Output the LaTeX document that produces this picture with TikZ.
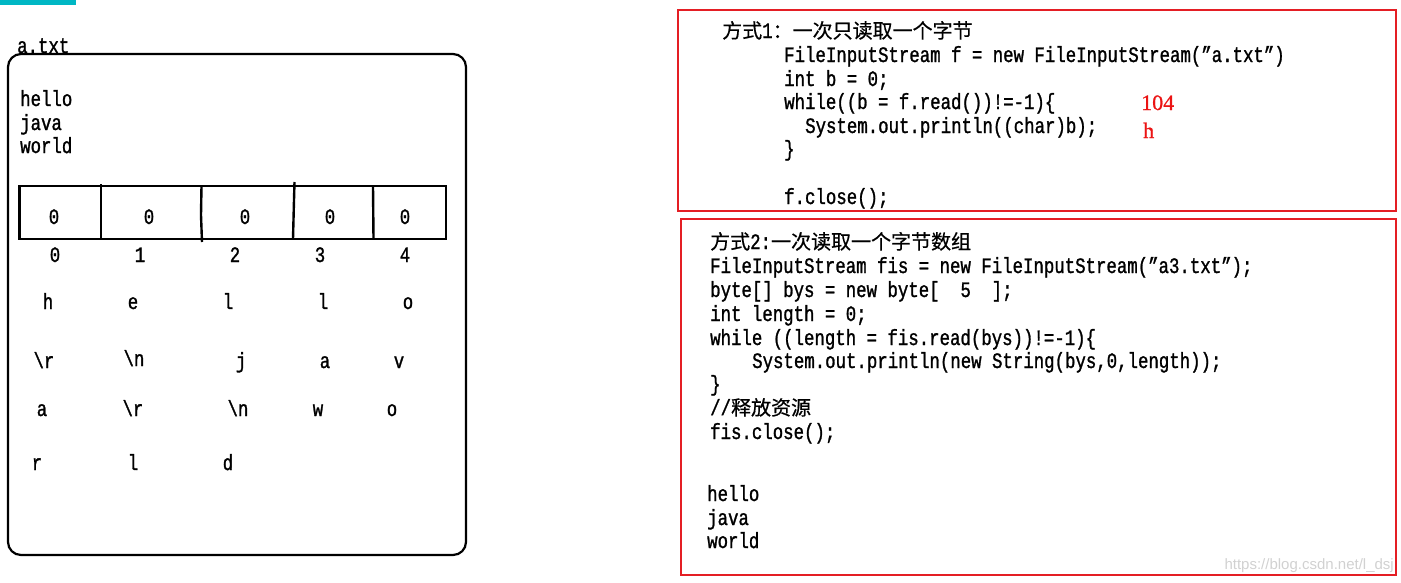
\documentclass[tikz,border=0pt]{standalone}
\usepackage{fontspec}
\setmainfont{Liberation Serif}
\newfontfamily\codefont[FakeStretch=0.79,FakeBold=1.2]{Liberation Mono}
\newfontfamily\cjk[FakeBold=0.6]{Noto Sans CJK SC}
\newfontfamily\wmfont{Liberation Sans}
\newfontfamily\redfont[FakeBold=0.8]{Liberation Serif}
\definecolor{boxred}{RGB}{228,30,36}
\definecolor{teal}{RGB}{0,183,196}
\definecolor{txtred}{RGB}{235,20,20}
\tikzset{
  code/.style={anchor=base west,inner sep=0pt,font=\codefont\fontsize{22}{24}\selectfont},
  cell/.style={anchor=base,inner sep=0pt,font=\codefont\fontsize{22}{24}\selectfont},
  redtxt/.style={anchor=base west,inner sep=0pt,text=txtred,font=\redfont\fontsize{22}{24}\selectfont},
  panel/.style={draw=boxred,line width=2.2pt},
  heavy/.style={line width=2.4pt}
}
\newcommand{\zh}[1]{{\cjk\fontsize{20}{24}\selectfont #1}}
\begin{document}
\begin{tikzpicture}[x=1pt,y=-1pt]
\useasboundingbox (0,0) rectangle (1401,582);
% teal bar
\fill[teal] (0,0) rectangle (76,5);
% left panel
\node[code] (fname) at (17,53) {a.txt};
\draw[line width=2.2pt,rounded corners=13pt] (8,54) rectangle (466,555);
\node[code] (l1) at (20,106) {hello};
\node[code] (l2) at (20,130) {java};
\node[code] (l3) at (20,153) {world};
% array
\draw[heavy] (19.5,186) rectangle (446,239);
\draw[heavy] (101,184) -- (101,239);
\draw[heavy] (201.5,186) -- (201,215) -- (202,242);
\draw[heavy] (294.5,182) -- (294,200) -- (293,239);
\draw[heavy] (373,186) -- (373.5,239);
\foreach \x/\n in {54/a,149/b,245/c,330/d,405/e}{
  \node[cell] (z\n) at (\x,224) {0};
}
\node[cell] (i0) at (55,262) {0};
\node[cell] (i1) at (140,262) {1};
\node[cell] (i2) at (235,262) {2};
\node[cell] (i3) at (320,262) {3};
\node[cell] (i4) at (405,262) {4};
\node[cell] (r1a) at (48,309) {h};
\node[cell] (r1b) at (133,309) {e};
\node[cell] (r1c) at (228,309) {l};
\node[cell] (r1d) at (323,309) {l};
\node[cell] (r1e) at (408,309) {o};
\node[cell] (r2a) at (44,368) {\textbackslash r};
\node[cell] (r2b) at (134,366) {\textbackslash n};
\node[cell] (r2c) at (241,368) {j};
\node[cell] (r2d) at (325,368) {a};
\node[cell] (r2e) at (399,368) {v};
\node[cell] (r3a) at (42,416) {a};
\node[cell] (r3b) at (133,416) {\textbackslash r};
\node[cell] (r3c) at (238,416) {\textbackslash n};
\node[cell] (r3d) at (318,416) {w};
\node[cell] (r3e) at (392,416) {o};
\node[cell] (r4a) at (37,470) {r};
\node[cell] (r4b) at (133,470) {l};
\node[cell] (r4c) at (228,470) {d};
% panel 1
\draw[panel] (678,10) rectangle (1396,211);
\node[code] (h1) at (722,38) {\zh{方式}1\zh{：一次只读取一个字节}};
\node[code] (p1a) at (784,62) {FileInputStream f = new FileInputStream(”a.txt”)};
\node[code] (p1b) at (784,86) {int b = 0;};
\node[code] (p1c) at (784,109) {while((b = f.read())!=-1)\{};
\node[code] (p1d) at (805,133) {System.out.println((char)b);};
\node[code] (p1e) at (784,156) {\}};
\node[code] (p1f) at (784,204) {f.close();};
\node[redtxt] (o1) at (1141,110) {104};
\node[redtxt] (o2) at (1143,138) {h};
% panel 2
\draw[panel] (681,219) rectangle (1396,575);
\node[code] (h2) at (710,249) {\zh{方式}2:\zh{一次读取一个字节数组}};
\node[code] (p2a) at (710,273) {FileInputStream fis = new FileInputStream(”a3.txt”);};
\node[code] (p2b) at (710,297) {byte[] bys = new byte[\ \ 5\ \ ];};
\node[code] (p2c) at (710,321) {int length = 0;};
\node[code] (p2d) at (710,345) {while ((length = fis.read(bys))!=-1)\{};
\node[code] (p2e) at (752,368) {System.out.println(new String(bys,0,length));};
\node[code] (p2f) at (710,391) {\}};
\node[code] (p2g) at (710,415) {//\zh{释放资源}};
\node[code] (p2h) at (710,439) {fis.close();};
\node[code] (q1) at (707,501) {hello};
\node[code] (q2) at (707,525) {java};
\node[code] (q3) at (707,548) {world};
\node[anchor=base east,inner sep=0pt,text=black!18,font=\wmfont\fontsize{15}{18}\selectfont] (wm) at (1394,569) {https://blog.csdn.net/l\_dsj};
\end{tikzpicture}
\end{document}
